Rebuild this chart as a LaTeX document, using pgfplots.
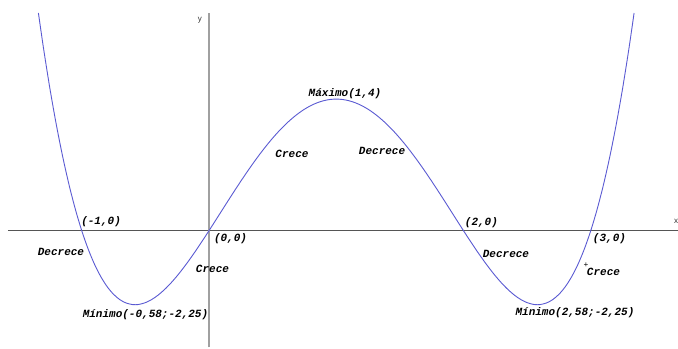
\documentclass[border=0pt]{standalone}
\usepackage{fontspec}
\usepackage{pgfplots}
\pgfplotsset{compat=1.18}
\newfontfamily\labfont{Liberation Mono}
\setmainfont{Liberation Sans}
\definecolor{curve}{HTML}{5A5AD2}
\definecolor{xax}{HTML}{555555}
\definecolor{yax}{HTML}{A0A0A0}
\newcommand{\lb}[1]{{\labfont\bfseries\itshape\fontsize{11bp}{13bp}\selectfont #1}}
\begin{document}
\begin{tikzpicture}
\begin{axis}[
  scale only axis, width=678bp, height=349bp,
  xmin=-1.6424, xmax=3.6857, ymin=-3.596, ymax=7.012,
  hide axis, clip=false,
]
% axes
\addplot[xax, line width=0.9bp] coordinates {(-1.58,0) (3.6857,0)};
\addplot[yax, line width=1.4bp] coordinates {(0,-3.55) (0,6.617)};
% curve
\addplot[curve, line width=0.9bp, smooth] coordinates {
(-1.3405,6.617) (-1.3,5.5341) (-1.25,4.31641) (-1.2,3.2256) (-1.15,2.25501)
(-1.1,1.3981) (-1.05,0.64851) (-1.0,0) (-0.95,-0.55349) (-0.9,-1.0179)
(-0.85,-1.39899) (-0.8,-1.7024) (-0.75,-1.93359) (-0.7,-2.0979) (-0.65,-2.20049)
(-0.6,-2.2464) (-0.58,-2.24999) (-0.55,-2.24049) (-0.5,-2.1875) (-0.45,-2.09199)
(-0.4,-1.9584) (-0.35,-1.79099) (-0.3,-1.5939) (-0.25,-1.37109) (-0.2,-1.1264)
(-0.15,-0.86349) (-0.1,-0.5859) (-0.05,-0.29699) (0,0) (0.05,0.30201)
(0.1,0.6061) (0.15,0.90951) (0.2,1.2096) (0.25,1.50391) (0.3,1.7901)
(0.35,2.06601) (0.4,2.3296) (0.45,2.57901) (0.5,2.8125) (0.55,3.02851)
(0.6,3.2256) (0.65,3.40251) (0.7,3.5581) (0.75,3.69141) (0.8,3.8016)
(0.85,3.88801) (0.9,3.9501) (0.95,3.98751) (1,4)
(1.05,3.98751) (1.1,3.9501) (1.15,3.88801) (1.2,3.8016) (1.25,3.69141)
(1.3,3.5581) (1.35,3.40251) (1.4,3.2256) (1.45,3.02851) (1.5,2.8125)
(1.55,2.57901) (1.6,2.3296) (1.65,2.06601) (1.7,1.7901) (1.75,1.50391)
(1.8,1.2096) (1.85,0.90951) (1.9,0.6061) (1.95,0.30201) (2.0,0)
(2.05,-0.29699) (2.1,-0.5859) (2.15,-0.86349) (2.2,-1.1264) (2.25,-1.37109)
(2.3,-1.5939) (2.35,-1.79099) (2.4,-1.9584) (2.45,-2.09199) (2.5,-2.1875)
(2.55,-2.24049) (2.58,-2.24999) (2.6,-2.2464) (2.65,-2.20049) (2.7,-2.0979)
(2.75,-1.93359) (2.8,-1.7024) (2.85,-1.39899) (2.9,-1.0179) (2.95,-0.55349)
(3.0,0) (3.05,0.64851) (3.1,1.3981) (3.15,2.25501) (3.2,3.2256)
(3.25,4.31641) (3.3,5.5341) (3.3405,6.617)
};
% labels
\node at (axis cs:-0.848,0.264) {\lb{(-1,0)}};
\node at (axis cs:-1.163,-0.647) {\lb{Decrece}};
\node at (axis cs:0.169,-0.252) {\lb{(0,0)}};
\node at (axis cs:0.0275,-1.164) {\lb{Crece}};
\node at (axis cs:-0.499,-2.562) {\lb{Mínimo(-0,58;-2,25)}};
\node at (axis cs:1.069,4.155) {\lb{Máximo(1,4)}};
\node at (axis cs:0.652,2.331) {\lb{Crece}};
\node at (axis cs:1.360,2.422) {\lb{Decrece}};
\node at (axis cs:2.141,0.234) {\lb{(2,0)}};
\node at (axis cs:3.147,-0.252) {\lb{(3,0)}};
\node at (axis cs:2.334,-0.708) {\lb{Decrece}};
\node at (axis cs:2.963,-1.04) {{\labfont\fontsize{8bp}{9bp}\selectfont +}};
\node at (axis cs:3.100,-1.255) {\lb{Crece}};
\node at (axis cs:2.876,-2.501) {\lb{Mínimo(2,58;-2,25)}};
\node[text=black!80] at (axis cs:-0.071,6.40) {\fontsize{8bp}{9bp}\selectfont y};
\node[text=black!80] at (axis cs:3.67,0.29) {\fontsize{8bp}{9bp}\selectfont x};
\end{axis}
\pgfresetboundingbox
\path (current axis.south west) rectangle (current axis.north east);
\end{tikzpicture}
\end{document}
